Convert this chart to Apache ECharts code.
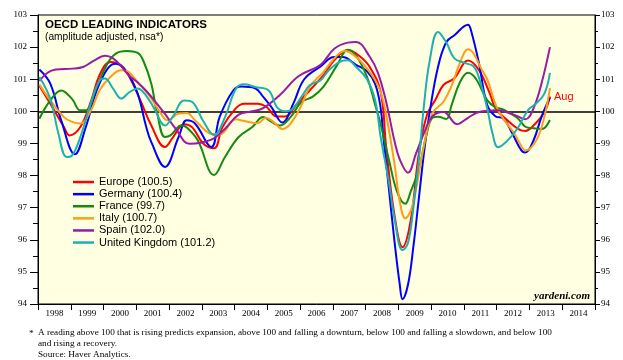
<!DOCTYPE html>
<html><head><meta charset="utf-8">
<script src="https://cdn.jsdelivr.net/npm/echarts@6/dist/echarts.min.js"></script>
<style>html,body{margin:0;padding:0;background:#fff}#c{width:623px;height:360px}</style>
</head><body><div id="c"></div>
<script>
const yearLabels = ['1998','1999','2000','2001','2002','2003','2004','2005','2006','2007','2008','2009','2010','2011','2012','2013','2014'];
const seriesNames = ['Europe (100.5)','Germany (100.4)','France (99.7)','Italy (100.7)','Spain (102.0)','United Kingdom (101.2)'];
const seriesColors = ['#ff0000','#0000ff','#148a14','#ff9c1a','#9a1aa6','#1eb0b0'];

const europe = [['1998-01',100.80],['1998-05',100.24],['1998-10',99.51],['1998-12',99.25],['1999-04',99.51],['1999-08',100.34],['1999-11',101.12],['2000-03',101.54],['2000-07',101.43],['2000-10',101.07],['2001-02',100.34],['2001-06',99.56],['2001-11',98.89],['2002-02',99.20],['2002-06',99.60],['2002-09',99.50],['2003-01',99.00],['2003-05',98.85],['2003-08',99.50],['2004-01',100.10],['2004-04',100.24],['2004-09',100.24],['2004-12',100.15],['2005-04',99.84],['2005-07',99.84],['2005-11',100.19],['2006-04',100.65],['2006-09',101.12],['2007-01',101.59],['2007-06',101.90],['2007-10',101.74],['2008-02',101.38],['2008-06',100.60],['2008-08',98.90],['2008-11',96.80],['2009-02',95.77],['2009-05',96.60],['2009-08',98.70],['2009-11',99.90],['2010-02',100.35],['2010-05',100.82],['2010-09',101.03],['2011-02',101.58],['2011-06',101.28],['2011-10',100.55],['2011-12',100.10],['2012-04',99.75],['2012-09',99.42],['2012-11',99.39],['2013-02',99.56],['2013-06',99.98],['2013-08',100.46]];

const germany = [['1998-01',101.30],['1998-05',100.86],['1998-09',99.72],['1999-02',98.66],['1999-06',99.51],['1999-10',100.65],['2000-02',101.33],['2000-05',101.48],['2000-09',101.23],['2001-01',100.55],['2001-04',99.56],['2001-06',99.04],['2001-11',98.27],['2002-04',99.20],['2002-07',99.72],['2002-10',99.62],['2003-04',98.89],['2003-07',99.82],['2003-12',100.65],['2004-03',100.77],['2004-08',100.72],['2004-11',100.45],['2005-02',100.13],['2005-06',99.65],['2005-10',100.24],['2006-02',101.00],['2006-08',101.40],['2007-01',101.69],['2007-04',101.69],['2007-09',101.45],['2008-01',101.25],['2008-04',100.85],['2008-06',100.10],['2008-07',99.20],['2008-09',97.60],['2008-11',96.00],['2009-01',94.60],['2009-02',94.15],['2009-04',94.60],['2009-06',95.80],['2009-08',97.30],['2009-10',98.80],['2009-12',100.00],['2010-03',101.38],['2010-06',102.15],['2010-09',102.37],['2011-02',102.70],['2011-03',102.55],['2011-06',101.50],['2011-09',100.20],['2011-12',99.85],['2012-03',99.77],['2012-06',99.35],['2012-10',98.74],['2012-11',98.72],['2013-02',99.10],['2013-05',99.85],['2013-08',100.43]];

const france = [['1998-01',99.77],['1998-05',100.34],['1998-09',100.65],['1999-01',100.38],['1999-04',100.03],['1999-06',100.03],['1999-10',100.76],['2000-02',101.50],['2000-05',101.80],['2000-09',101.88],['2001-01',101.82],['2001-03',101.59],['2001-06',100.86],['2001-08',100.00],['2001-11',99.20],['2002-01',99.25],['2002-05',99.56],['2002-07',99.50],['2002-11',99.10],['2003-05',98.02],['2003-09',98.58],['2004-02',99.20],['2004-07',99.51],['2004-11',99.82],['2005-02',99.67],['2005-05',99.56],['2005-09',99.82],['2006-01',100.29],['2006-05',100.45],['2006-09',100.76],['2007-02',101.43],['2007-06',101.92],['2007-09',101.74],['2008-01',101.07],['2008-04',100.20],['2008-06',99.60],['2008-09',98.50],['2008-12',97.50],['2009-03',97.12],['2009-05',97.50],['2009-08',98.20],['2009-11',99.35],['2010-01',99.80],['2010-03',99.83],['2010-06',99.76],['2010-08',100.20],['2010-11',100.90],['2011-02',101.20],['2011-05',101.00],['2011-09',100.35],['2011-12',100.13],['2012-03',100.05],['2012-08',99.80],['2012-11',99.52],['2013-02',99.47],['2013-05',99.45],['2013-08',99.73]];

const italy = [['1998-01',100.84],['1998-05',100.34],['1998-10',99.82],['1999-01',99.67],['1999-04',99.62],['1999-08',100.05],['1999-11',100.65],['2000-03',101.07],['2000-07',101.28],['2000-09',101.26],['2001-01',100.91],['2001-04',100.62],['2001-06',100.40],['2001-09',100.00],['2001-12',99.72],['2002-04',99.93],['2002-07',99.95],['2002-10',99.72],['2003-04',99.30],['2003-07',99.28],['2004-01',99.75],['2004-04',99.70],['2004-09',99.63],['2004-12',99.80],['2005-03',99.65],['2005-06',99.45],['2005-09',99.62],['2006-01',100.19],['2006-04',100.76],['2006-09',101.22],['2007-02',101.74],['2007-05',101.88],['2007-09',101.69],['2008-01',101.33],['2008-04',100.97],['2008-06',100.60],['2008-08',99.90],['2008-11',98.40],['2009-01',97.20],['2009-03',96.67],['2009-05',96.90],['2009-07',97.60],['2009-10',99.00],['2010-01',99.95],['2010-05',100.30],['2010-08',100.80],['2010-11',101.50],['2011-02',101.93],['2011-04',101.80],['2011-07',101.30],['2011-09',101.00],['2012-01',100.04],['2012-07',99.30],['2012-10',98.85],['2012-11',98.78],['2013-03',99.10],['2013-06',99.85],['2013-08',100.72]];

const spain = [['1998-01',100.95],['1998-04',101.20],['1998-07',101.30],['1999-01',101.33],['1999-05',101.38],['1999-09',101.58],['2000-01',101.73],['2000-04',101.65],['2000-07',101.40],['2000-10',101.10],['2001-01',100.90],['2001-04',100.65],['2001-07',100.35],['2001-11',99.92],['2002-03',99.45],['2002-08',98.99],['2003-04',99.12],['2003-09',99.46],['2004-02',99.90],['2004-07',100.00],['2004-11',100.10],['2005-05',100.50],['2005-12',101.10],['2006-08',101.45],['2007-01',101.95],['2007-06',102.14],['2007-09',102.16],['2008-02',101.70],['2008-05',101.20],['2008-08',100.30],['2008-11',99.10],['2009-01',98.50],['2009-04',98.09],['2009-07',98.70],['2009-10',99.35],['2010-01',99.85],['2010-05',99.98],['2010-10',99.60],['2011-02',99.80],['2011-06',99.98],['2012-01',100.03],['2012-05',99.95],['2012-08',99.85],['2012-11',99.75],['2013-02',100.10],['2013-05',100.90],['2013-08',102.00]];

const uk = [['1998-01',101.07],['1998-05',100.39],['1998-08',99.30],['1998-11',98.58],['1999-01',98.63],['1999-04',99.20],['1999-08',100.30],['1999-11',100.95],['2000-01',101.02],['2000-04',100.71],['2000-07',100.40],['2000-10',100.60],['2001-01',100.71],['2001-04',100.50],['2001-07',100.10],['2001-11',99.56],['2002-02',99.85],['2002-06',100.34],['2002-09',100.29],['2003-01',99.70],['2003-05',99.26],['2003-09',99.82],['2004-01',100.70],['2004-04',100.84],['2004-08',100.76],['2005-01',100.65],['2005-04',100.13],['2005-07',100.00],['2005-09',100.03],['2006-01',100.45],['2006-04',100.81],['2006-08',100.97],['2006-11',101.28],['2007-03',101.54],['2007-06',101.59],['2007-09',101.38],['2008-01',101.00],['2008-04',100.34],['2008-06',99.20],['2008-09',97.80],['2008-11',96.70],['2009-02',95.68],['2009-04',95.90],['2009-06',97.00],['2009-08',98.50],['2009-10',100.30],['2009-12',101.60],['2010-03',102.47],['2010-06',102.15],['2010-09',101.65],['2011-01',101.50],['2011-04',101.40],['2011-06',101.05],['2011-09',100.10],['2011-11',99.30],['2012-01',98.88],['2012-04',99.05],['2012-08',99.45],['2012-12',100.04],['2013-03',100.25],['2013-06',100.56],['2013-08',101.20]];

const allData = [europe, germany, france, italy, spain, uk];

function toYear(s){ const p = s.split('-').map(Number); return p[0] + (p[1] - 0.5) / 12; }

const chart = echarts.init(document.getElementById('c'), null, {renderer:'canvas'});
const serif = 'Liberation Serif';
const sans = 'Liberation Sans';

const series = allData.map((d, i) => {
  const s = {
    name: seriesNames[i], type: 'line', xAxisIndex: 1, yAxisIndex: 0,
    data: d.map(p => [toYear(p[0]), p[1]]),
    smooth: 0.4, symbol: 'none', showSymbol: false,
    lineStyle: {color: seriesColors[i], width: 2},
    itemStyle: {color: seriesColors[i]},
    z: 3
  };
  if (i === 0) {
    s.endLabel = {show: true, formatter: 'Aug', color: '#ff0000', fontFamily: sans, fontSize: 11, distance: 4};
    s.markLine = {silent: true, symbol: 'none', animation: false, label: {show: false},
      lineStyle: {color: '#000', width: 1.5, type: 'solid'}, data: [{yAxis: 100}], z: 2};
  }
  return s;
});

const yAxisCommon = {
  type: 'value', min: 94, max: 103, interval: 1,
  axisLine: {show: true, lineStyle: {color: '#000', width: 1}},
  axisTick: {show: true, lineStyle: {color: '#000'}},
  minorTick: {show: true, splitNumber: 2, lineStyle: {color: '#000'}},
  splitLine: {show: false},
  axisLabel: {color: '#000', fontFamily: serif, fontSize: 9}
};

chart.setOption({
  animation: false,
  backgroundColor: '#ffffff',
  grid: {left: 38, right: 28, top: 15, bottom: 56, show: true, backgroundColor: '#ffffe2', borderColor: '#000', borderWidth: 1},
  xAxis: [
    {type: 'category', data: yearLabels, boundaryGap: true, position: 'bottom',
     axisLine: {lineStyle: {color: '#000'}},
     axisTick: {show: true, length: 6, lineStyle: {color: '#000'}},
     axisLabel: {color: '#000', fontFamily: serif, fontSize: 9, margin: 5},
     splitLine: {show: false}},
    {type: 'value', min: 1998, max: 2015, show: false}
  ],
  yAxis: [
    Object.assign({}, yAxisCommon, {position: 'left',
      axisTick: {show: true, length: 8, lineStyle: {color: '#000'}},
      minorTick: {show: true, splitNumber: 2, length: 5, lineStyle: {color: '#000'}},
      axisLabel: {color: '#000', fontFamily: serif, fontSize: 9, margin: 11}}),
    Object.assign({}, yAxisCommon, {position: 'right',
      axisTick: {show: true, length: 5, lineStyle: {color: '#000'}},
      minorTick: {show: true, splitNumber: 2, length: 3, lineStyle: {color: '#000'}},
      axisLabel: {color: '#000', fontFamily: serif, fontSize: 9, margin: 6}})
  ],
  legend: {
    data: seriesNames, orient: 'vertical', left: 68, top: 171,
    icon: 'rect', itemWidth: 21, itemHeight: 2.5, itemGap: 0,
    selectedMode: false,
    textStyle: {fontFamily: sans, fontSize: 11, color: '#000', lineHeight: 12.1}
  },
  graphic: [
    {type: 'text', x: 45, y: 24.5, style: {text: 'OECD LEADING INDICATORS', font: 'bold 11.5px "Liberation Sans"', fill: '#000', textAlign: 'left', textVerticalAlign: 'middle'}},
    {type: 'text', x: 45, y: 36.7, style: {text: '(amplitude adjusted, nsa*)', font: '10.2px "Liberation Sans"', fill: '#000', textAlign: 'left', textVerticalAlign: 'middle'}},
    {type: 'text', x: 590, y: 296, style: {text: 'yardeni.com', font: 'italic bold 11px "Liberation Serif"', fill: '#000', textAlign: 'right', textVerticalAlign: 'middle'}},
    {type: 'text', x: 29, y: 334, style: {text: '*', font: '9.2px "Liberation Serif"', fill: '#000', textAlign: 'left', textVerticalAlign: 'middle'}},
    {type: 'text', x: 38, y: 333, style: {text: 'A reading above 100 that is rising predicts expansion, above 100 and falling a downturn, below 100 and falling a slowdown, and below 100', font: '9.2px "Liberation Serif"', fill: '#000', textAlign: 'left', textVerticalAlign: 'middle'}},
    {type: 'text', x: 38, y: 344, style: {text: 'and rising a recovery.', font: '9.2px "Liberation Serif"', fill: '#000', textAlign: 'left', textVerticalAlign: 'middle'}},
    {type: 'text', x: 38, y: 355, style: {text: 'Source: Haver Analytics.', font: '9.2px "Liberation Serif"', fill: '#000', textAlign: 'left', textVerticalAlign: 'middle'}}
  ],
  series: series
});
</script>
</body></html>
